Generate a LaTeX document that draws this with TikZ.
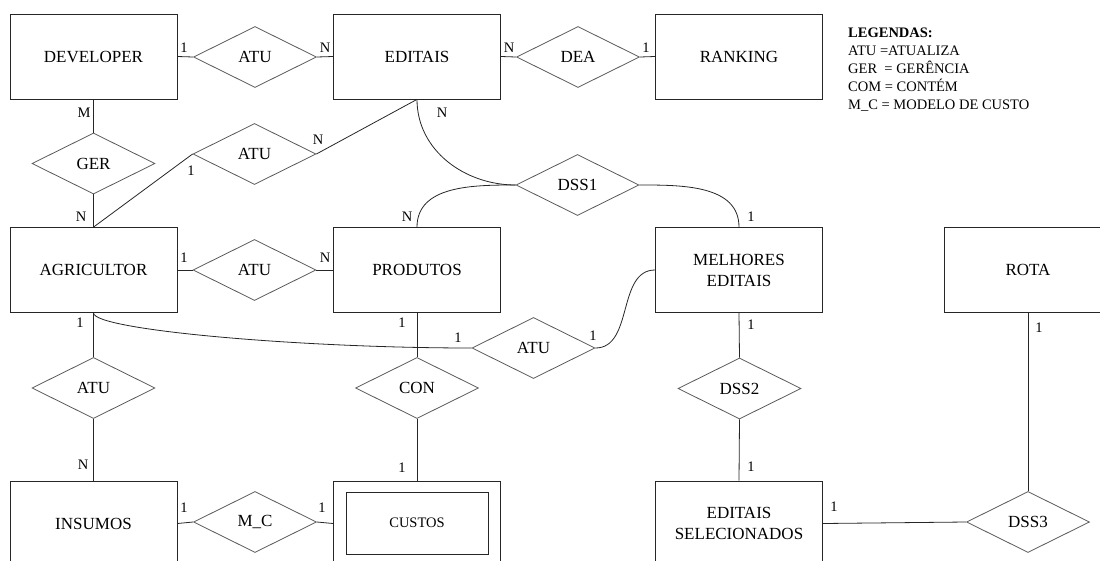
\documentclass[tikz,border=0pt]{standalone}
\usepackage{fontspec}
\setmainfont{Liberation Serif}
\usetikzlibrary{shapes.geometric}

\tikzset{
  ent/.style={draw=black!85, line width=0.8pt, minimum width=167pt, minimum height=85pt,
    inner sep=0pt, align=center, text=black, font=\fontsize{17}{21}\selectfont},
  rel/.style={diamond, draw=black!65, line width=0.8pt, minimum width=123pt, minimum height=61pt,
    inner sep=0pt, text=black, font=\fontsize{17}{21}\selectfont},
  card/.style={inner sep=0pt, text=black, font=\fontsize{14.5}{16}\selectfont},
  link/.style={draw=black!85, line width=0.8pt},
}

\begin{document}
\begin{tikzpicture}[x=1pt,y=-1pt]
\useasboundingbox (0,0) rectangle (1100,560);
\clip (0,0) rectangle (1100,560);

% entities
\node[ent] (dev)  at (93.5,56.5)  {DEVELOPER};
\node[ent] (edi)  at (417,56.5)   {EDITAIS};
\node[ent] (rank) at (739,56.5)   {RANKING};
\node[ent] (agr)  at (93.5,270)   {AGRICULTOR};
\node[ent] (prod) at (417,270)    {PRODUTOS};
\node[ent] (mel)  at (739,270)    {MELHORES\\EDITAIS};
\node[ent] (rota) at (1028,270)   {ROTA};
\node[ent] (ins)  at (93.5,523.5) {INSUMOS};
\node[ent] (cus)  at (417,523.5)  {};
\node[draw=black!85, line width=0.8pt, minimum width=142pt, minimum height=62pt, inner sep=0pt,
      text=black, font=\fontsize{14.5}{17}\selectfont] (cusin) at (417,523) {CUSTOS};
\node[ent] (sel)  at (739,523.5)  {EDITAIS\\SELECIONADOS};

% relationships
\node[rel] (atu1) at (255,57)     {ATU};
\node[rel] (dea)  at (578,57)     {DEA};
\node[rel] (ger)  at (93.5,163.5) {GER};
\node[rel] (atu2) at (254.5,154)  {ATU};
\node[rel] (dss1) at (577.5,185)  {DSS1};
\node[rel] (atu5) at (254.5,270)  {ATU};
\node[rel] (atu3) at (533.5,348)  {ATU};
\node[rel] (atu4) at (93.5,388)   {ATU};
\node[rel] (con)  at (417,388)    {CON};
\node[rel] (dss2) at (739.5,388.5){DSS2};
\node[rel] (mc)   at (255,522)    {M\_C};
\node[rel] (dss3) at (1028,522)   {DSS3};

% connectors
\draw[link] (dev.east) -- (atu1.west);
\draw[link] (atu1.east) -- (edi.west);
\draw[link] (edi.east) -- (dea.west);
\draw[link] (dea.east) -- (rank.west);
\draw[link] (dev.south) -- (ger.north);
\draw[link] (ger.south) -- (agr.north);
\draw[link] (agr.north) -- (atu2.west);
\draw[link] (atu2.east) -- (edi.south);
\draw[link] (edi.south) to[out=-90,in=180] (dss1.west);
\draw[link] (prod.north) to[out=90,in=180] (dss1.west);
\draw[link] (dss1.east) to[out=0,in=90] (mel.north);
\draw[link] (agr.east) -- (atu5.west);
\draw[link] (atu5.east) -- (prod.west);
\draw[link] (agr.south) .. controls (93.5,330) and (300,348) .. (atu3.west);
\draw[link] (mel.west) to[out=180,in=0] (atu3.east);
\draw[link] (agr.south) -- (atu4.north);
\draw[link] (atu4.south) -- (ins.north);
\draw[link] (prod.south) -- (con.north);
\draw[link] (con.south) -- (cus.north);
\draw[link] (ins.east) -- (mc.west);
\draw[link] (mc.east) -- (cus.west);
\draw[link] (mel.south) -- (dss2.north);
\draw[link] (dss2.south) -- (sel.north);
\draw[link] (sel.east) -- (dss3.west);
\draw[link] (dss3.north) -- (rota.south);

% cardinalities
\node[card] (c1)  at (184,48)  {1};
\node[card] (c2)  at (325,48)  {N};
\node[card] (c3)  at (509,48)  {N};
\node[card] (c4)  at (646,48)  {1};
\node[card] (c5)  at (84,113)  {M};
\node[card] (c6)  at (81,217)  {N};
\node[card] (c7)  at (191,171) {1};
\node[card] (c8)  at (318,140) {N};
\node[card] (c9)  at (442,113) {N};
\node[card] (c10) at (407,217) {N};
\node[card] (c11) at (751,217) {1};
\node[card] (c12) at (184,258) {1};
\node[card] (c13) at (325,258) {N};
\node[card] (c14) at (80,323)  {1};
\node[card] (c15) at (458,338) {1};
\node[card] (c16) at (593,336) {1};
\node[card] (c17) at (402,323) {1};
\node[card] (c18) at (402,468) {1};
\node[card] (c19) at (83,465)  {N};
\node[card] (c20) at (184,508) {1};
\node[card] (c21) at (322,508) {1};
\node[card] (c22) at (751,325) {1};
\node[card] (c23) at (751,467) {1};
\node[card] (c24) at (834,507) {1};
\node[card] (c25) at (1039,328){1};

% legend
\node[anchor=north west, align=left, inner sep=0pt, text=black,
      font=\fontsize{14.5}{18}\selectfont] (legend) at (848,28)
  {\textbf{LEGENDAS:}\\ATU\ =ATUALIZA\\GER\ \ = GERÊNCIA\\COM = CONTÉM\\M\_C = MODELO DE CUSTO};
\end{tikzpicture}
\end{document}
